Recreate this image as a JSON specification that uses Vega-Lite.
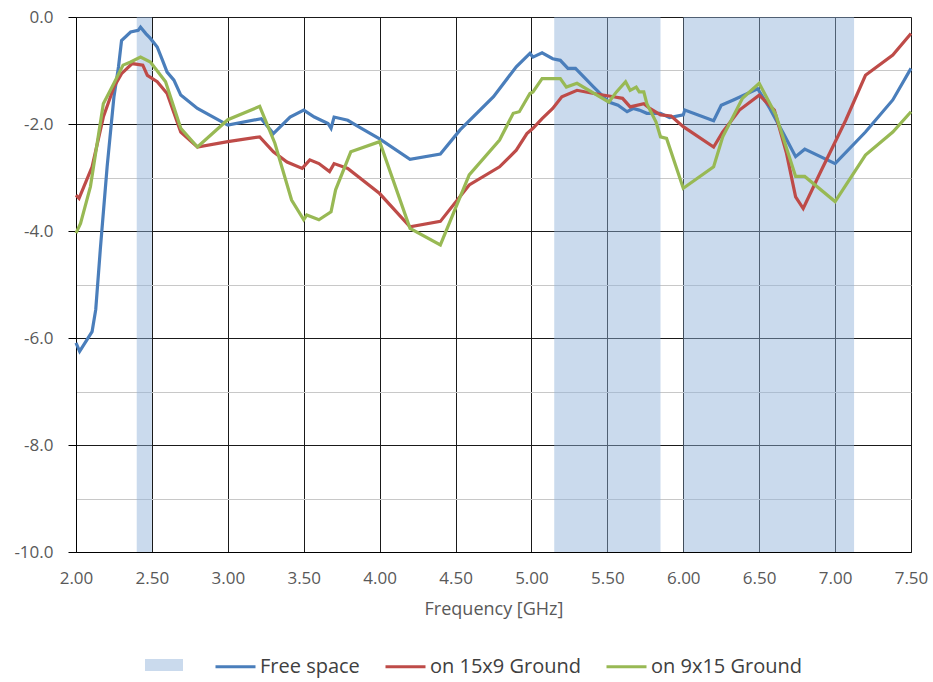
{
  "$schema": "https://vega.github.io/schema/vega-lite/v6.json",
  "width": 835,
  "height": 535,
  "autosize": {"type": "none"},
  "padding": {"left": 76, "top": 17, "right": 22, "bottom": 130},
  "config": {"view": {"stroke": null}, "font": "Open Sans"},
  "datasets": {
    "bands": [
      {"start": 2.4, "end": 2.5, "band": "Band"},
      {"start": 5.15, "end": 5.85, "band": "Band"},
      {"start": 6.0, "end": 7.125, "band": "Band"}
    ],
    "curves": [
      {"f": 2.00, "v": -6.09, "s": "Free space"},
      {"f": 2.024, "v": -6.25, "s": "Free space"},
      {"f": 2.106, "v": -5.88, "s": "Free space"},
      {"f": 2.13, "v": -5.47, "s": "Free space"},
      {"f": 2.16, "v": -4.35, "s": "Free space"},
      {"f": 2.205, "v": -2.80, "s": "Free space"},
      {"f": 2.25, "v": -1.49, "s": "Free space"},
      {"f": 2.28, "v": -0.93, "s": "Free space"},
      {"f": 2.30, "v": -0.44, "s": "Free space"},
      {"f": 2.36, "v": -0.28, "s": "Free space"},
      {"f": 2.41, "v": -0.25, "s": "Free space"},
      {"f": 2.425, "v": -0.19, "s": "Free space"},
      {"f": 2.46, "v": -0.31, "s": "Free space"},
      {"f": 2.49, "v": -0.40, "s": "Free space"},
      {"f": 2.535, "v": -0.56, "s": "Free space"},
      {"f": 2.57, "v": -0.81, "s": "Free space"},
      {"f": 2.60, "v": -1.03, "s": "Free space"},
      {"f": 2.645, "v": -1.18, "s": "Free space"},
      {"f": 2.69, "v": -1.46, "s": "Free space"},
      {"f": 2.80, "v": -1.71, "s": "Free space"},
      {"f": 3.00, "v": -2.02, "s": "Free space"},
      {"f": 3.22, "v": -1.90, "s": "Free space"},
      {"f": 3.30, "v": -2.18, "s": "Free space"},
      {"f": 3.41, "v": -1.87, "s": "Free space"},
      {"f": 3.50, "v": -1.74, "s": "Free space"},
      {"f": 3.57, "v": -1.87, "s": "Free space"},
      {"f": 3.66, "v": -1.99, "s": "Free space"},
      {"f": 3.68, "v": -2.08, "s": "Free space"},
      {"f": 3.70, "v": -1.87, "s": "Free space"},
      {"f": 3.79, "v": -1.93, "s": "Free space"},
      {"f": 3.88, "v": -2.08, "s": "Free space"},
      {"f": 4.00, "v": -2.28, "s": "Free space"},
      {"f": 4.20, "v": -2.66, "s": "Free space"},
      {"f": 4.40, "v": -2.56, "s": "Free space"},
      {"f": 4.53, "v": -2.11, "s": "Free space"},
      {"f": 4.75, "v": -1.49, "s": "Free space"},
      {"f": 4.90, "v": -0.93, "s": "Free space"},
      {"f": 4.99, "v": -0.68, "s": "Free space"},
      {"f": 5.01, "v": -0.75, "s": "Free space"},
      {"f": 5.07, "v": -0.67, "s": "Free space"},
      {"f": 5.14, "v": -0.78, "s": "Free space"},
      {"f": 5.19, "v": -0.81, "s": "Free space"},
      {"f": 5.24, "v": -0.96, "s": "Free space"},
      {"f": 5.29, "v": -0.96, "s": "Free space"},
      {"f": 5.41, "v": -1.31, "s": "Free space"},
      {"f": 5.51, "v": -1.59, "s": "Free space"},
      {"f": 5.57, "v": -1.65, "s": "Free space"},
      {"f": 5.63, "v": -1.77, "s": "Free space"},
      {"f": 5.67, "v": -1.71, "s": "Free space"},
      {"f": 5.71, "v": -1.74, "s": "Free space"},
      {"f": 5.76, "v": -1.80, "s": "Free space"},
      {"f": 5.85, "v": -1.80, "s": "Free space"},
      {"f": 5.91, "v": -1.88, "s": "Free space"},
      {"f": 6.00, "v": -1.83, "s": "Free space"},
      {"f": 6.01, "v": -1.74, "s": "Free space"},
      {"f": 6.20, "v": -1.94, "s": "Free space"},
      {"f": 6.25, "v": -1.65, "s": "Free space"},
      {"f": 6.33, "v": -1.55, "s": "Free space"},
      {"f": 6.49, "v": -1.34, "s": "Free space"},
      {"f": 6.57, "v": -1.71, "s": "Free space"},
      {"f": 6.66, "v": -2.18, "s": "Free space"},
      {"f": 6.74, "v": -2.61, "s": "Free space"},
      {"f": 6.80, "v": -2.47, "s": "Free space"},
      {"f": 7.00, "v": -2.74, "s": "Free space"},
      {"f": 7.20, "v": -2.15, "s": "Free space"},
      {"f": 7.38, "v": -1.55, "s": "Free space"},
      {"f": 7.50, "v": -0.96, "s": "Free space"},

      {"f": 2.00, "v": -3.33, "s": "on 15x9 Ground"},
      {"f": 2.02, "v": -3.39, "s": "on 15x9 Ground"},
      {"f": 2.106, "v": -2.80, "s": "on 15x9 Ground"},
      {"f": 2.18, "v": -1.87, "s": "on 15x9 Ground"},
      {"f": 2.25, "v": -1.31, "s": "on 15x9 Ground"},
      {"f": 2.30, "v": -1.06, "s": "on 15x9 Ground"},
      {"f": 2.37, "v": -0.87, "s": "on 15x9 Ground"},
      {"f": 2.44, "v": -0.90, "s": "on 15x9 Ground"},
      {"f": 2.47, "v": -1.09, "s": "on 15x9 Ground"},
      {"f": 2.535, "v": -1.21, "s": "on 15x9 Ground"},
      {"f": 2.60, "v": -1.43, "s": "on 15x9 Ground"},
      {"f": 2.69, "v": -2.15, "s": "on 15x9 Ground"},
      {"f": 2.80, "v": -2.43, "s": "on 15x9 Ground"},
      {"f": 3.00, "v": -2.33, "s": "on 15x9 Ground"},
      {"f": 3.21, "v": -2.24, "s": "on 15x9 Ground"},
      {"f": 3.30, "v": -2.52, "s": "on 15x9 Ground"},
      {"f": 3.39, "v": -2.71, "s": "on 15x9 Ground"},
      {"f": 3.49, "v": -2.83, "s": "on 15x9 Ground"},
      {"f": 3.54, "v": -2.67, "s": "on 15x9 Ground"},
      {"f": 3.60, "v": -2.74, "s": "on 15x9 Ground"},
      {"f": 3.67, "v": -2.89, "s": "on 15x9 Ground"},
      {"f": 3.70, "v": -2.74, "s": "on 15x9 Ground"},
      {"f": 3.79, "v": -2.83, "s": "on 15x9 Ground"},
      {"f": 4.00, "v": -3.30, "s": "on 15x9 Ground"},
      {"f": 4.20, "v": -3.92, "s": "on 15x9 Ground"},
      {"f": 4.40, "v": -3.82, "s": "on 15x9 Ground"},
      {"f": 4.59, "v": -3.14, "s": "on 15x9 Ground"},
      {"f": 4.79, "v": -2.80, "s": "on 15x9 Ground"},
      {"f": 4.90, "v": -2.49, "s": "on 15x9 Ground"},
      {"f": 4.97, "v": -2.18, "s": "on 15x9 Ground"},
      {"f": 5.01, "v": -2.08, "s": "on 15x9 Ground"},
      {"f": 5.07, "v": -1.90, "s": "on 15x9 Ground"},
      {"f": 5.14, "v": -1.71, "s": "on 15x9 Ground"},
      {"f": 5.20, "v": -1.49, "s": "on 15x9 Ground"},
      {"f": 5.30, "v": -1.37, "s": "on 15x9 Ground"},
      {"f": 5.41, "v": -1.43, "s": "on 15x9 Ground"},
      {"f": 5.54, "v": -1.49, "s": "on 15x9 Ground"},
      {"f": 5.60, "v": -1.52, "s": "on 15x9 Ground"},
      {"f": 5.65, "v": -1.68, "s": "on 15x9 Ground"},
      {"f": 5.74, "v": -1.62, "s": "on 15x9 Ground"},
      {"f": 5.78, "v": -1.71, "s": "on 15x9 Ground"},
      {"f": 5.85, "v": -1.83, "s": "on 15x9 Ground"},
      {"f": 5.92, "v": -1.85, "s": "on 15x9 Ground"},
      {"f": 6.00, "v": -2.05, "s": "on 15x9 Ground"},
      {"f": 6.20, "v": -2.43, "s": "on 15x9 Ground"},
      {"f": 6.26, "v": -2.15, "s": "on 15x9 Ground"},
      {"f": 6.37, "v": -1.74, "s": "on 15x9 Ground"},
      {"f": 6.50, "v": -1.46, "s": "on 15x9 Ground"},
      {"f": 6.60, "v": -1.74, "s": "on 15x9 Ground"},
      {"f": 6.68, "v": -2.55, "s": "on 15x9 Ground"},
      {"f": 6.74, "v": -3.36, "s": "on 15x9 Ground"},
      {"f": 6.79, "v": -3.58, "s": "on 15x9 Ground"},
      {"f": 6.90, "v": -2.92, "s": "on 15x9 Ground"},
      {"f": 7.07, "v": -1.93, "s": "on 15x9 Ground"},
      {"f": 7.20, "v": -1.09, "s": "on 15x9 Ground"},
      {"f": 7.38, "v": -0.71, "s": "on 15x9 Ground"},
      {"f": 7.50, "v": -0.31, "s": "on 15x9 Ground"},

      {"f": 2.00, "v": -4.04, "s": "on 9x15 Ground"},
      {"f": 2.03, "v": -3.86, "s": "on 9x15 Ground"},
      {"f": 2.095, "v": -3.17, "s": "on 9x15 Ground"},
      {"f": 2.18, "v": -1.62, "s": "on 9x15 Ground"},
      {"f": 2.25, "v": -1.24, "s": "on 9x15 Ground"},
      {"f": 2.31, "v": -0.90, "s": "on 9x15 Ground"},
      {"f": 2.36, "v": -0.84, "s": "on 9x15 Ground"},
      {"f": 2.425, "v": -0.75, "s": "on 9x15 Ground"},
      {"f": 2.49, "v": -0.84, "s": "on 9x15 Ground"},
      {"f": 2.59, "v": -1.21, "s": "on 9x15 Ground"},
      {"f": 2.69, "v": -2.08, "s": "on 9x15 Ground"},
      {"f": 2.80, "v": -2.43, "s": "on 9x15 Ground"},
      {"f": 3.00, "v": -1.92, "s": "on 9x15 Ground"},
      {"f": 3.21, "v": -1.67, "s": "on 9x15 Ground"},
      {"f": 3.31, "v": -2.36, "s": "on 9x15 Ground"},
      {"f": 3.42, "v": -3.42, "s": "on 9x15 Ground"},
      {"f": 3.50, "v": -3.79, "s": "on 9x15 Ground"},
      {"f": 3.52, "v": -3.70, "s": "on 9x15 Ground"},
      {"f": 3.60, "v": -3.79, "s": "on 9x15 Ground"},
      {"f": 3.68, "v": -3.64, "s": "on 9x15 Ground"},
      {"f": 3.71, "v": -3.23, "s": "on 9x15 Ground"},
      {"f": 3.81, "v": -2.52, "s": "on 9x15 Ground"},
      {"f": 4.00, "v": -2.33, "s": "on 9x15 Ground"},
      {"f": 4.20, "v": -3.95, "s": "on 9x15 Ground"},
      {"f": 4.40, "v": -4.26, "s": "on 9x15 Ground"},
      {"f": 4.59, "v": -2.95, "s": "on 9x15 Ground"},
      {"f": 4.79, "v": -2.30, "s": "on 9x15 Ground"},
      {"f": 4.88, "v": -1.80, "s": "on 9x15 Ground"},
      {"f": 4.92, "v": -1.77, "s": "on 9x15 Ground"},
      {"f": 4.99, "v": -1.43, "s": "on 9x15 Ground"},
      {"f": 5.01, "v": -1.40, "s": "on 9x15 Ground"},
      {"f": 5.07, "v": -1.15, "s": "on 9x15 Ground"},
      {"f": 5.19, "v": -1.15, "s": "on 9x15 Ground"},
      {"f": 5.23, "v": -1.31, "s": "on 9x15 Ground"},
      {"f": 5.30, "v": -1.24, "s": "on 9x15 Ground"},
      {"f": 5.51, "v": -1.59, "s": "on 9x15 Ground"},
      {"f": 5.56, "v": -1.40, "s": "on 9x15 Ground"},
      {"f": 5.62, "v": -1.21, "s": "on 9x15 Ground"},
      {"f": 5.65, "v": -1.37, "s": "on 9x15 Ground"},
      {"f": 5.69, "v": -1.31, "s": "on 9x15 Ground"},
      {"f": 5.71, "v": -1.40, "s": "on 9x15 Ground"},
      {"f": 5.74, "v": -1.40, "s": "on 9x15 Ground"},
      {"f": 5.76, "v": -1.62, "s": "on 9x15 Ground"},
      {"f": 5.82, "v": -1.96, "s": "on 9x15 Ground"},
      {"f": 5.85, "v": -2.24, "s": "on 9x15 Ground"},
      {"f": 5.89, "v": -2.27, "s": "on 9x15 Ground"},
      {"f": 6.00, "v": -3.20, "s": "on 9x15 Ground"},
      {"f": 6.20, "v": -2.80, "s": "on 9x15 Ground"},
      {"f": 6.26, "v": -2.24, "s": "on 9x15 Ground"},
      {"f": 6.39, "v": -1.52, "s": "on 9x15 Ground"},
      {"f": 6.50, "v": -1.24, "s": "on 9x15 Ground"},
      {"f": 6.61, "v": -1.83, "s": "on 9x15 Ground"},
      {"f": 6.74, "v": -2.98, "s": "on 9x15 Ground"},
      {"f": 6.80, "v": -2.98, "s": "on 9x15 Ground"},
      {"f": 7.00, "v": -3.45, "s": "on 9x15 Ground"},
      {"f": 7.20, "v": -2.58, "s": "on 9x15 Ground"},
      {"f": 7.38, "v": -2.15, "s": "on 9x15 Ground"},
      {"f": 7.50, "v": -1.77, "s": "on 9x15 Ground"}
    ]
  },
  "layer": [
    {
      "data": {"name": "bands"},
      "mark": {"type": "rect", "opacity": 0.47},
      "encoding": {
        "x": {"field": "start", "type": "quantitative", "title": "Frequency [GHz]", "scale": {"domain": [2, 7.5], "nice": false, "zero": false}},
        "x2": {"field": "end"},
        "fill": {
          "field": "band", "type": "nominal",
          "scale": {"domain": ["Band"], "range": ["#8fb0d8"]},
          "legend": {
            "orient": "none", "legendX": 69, "legendY": 629, "title": null,
            "labelExpr": "''", "symbolType": "M-1,-0.32H1V0.32H-1Z", "symbolSize": 1444,
            "symbolOpacity": 0.47, "symbolStrokeWidth": 0, "padding": 0
          }
        }
      }
    },
    {
      "data": {"name": "curves"},
      "mark": {"type": "line", "strokeWidth": 3.2},
      "encoding": {
        "x": {
          "field": "f", "type": "quantitative", "title": "Frequency [GHz]",
          "scale": {"domain": [2, 7.5], "nice": false, "zero": false},
          "axis": {
            "values": [2, 2.25, 2.5, 2.75, 3, 3.25, 3.5, 3.75, 4, 4.25, 4.5, 4.75, 5, 5.25, 5.5, 5.75, 6, 6.25, 6.5, 6.75, 7, 7.25, 7.5],
            "labelExpr": "abs(datum.value*2-round(datum.value*2))<0.001 ? format(datum.value,'.2f') : ''",
            "ticks": false, "labelPadding": 18, "labelFontSize": 17, "labelColor": "#595959",
            "labelFlush": false, "labelOverlap": false,
            "titleFontSize": 18, "titleFontWeight": "normal", "titleColor": "#595959", "titlePadding": 14,
            "domainColor": "black", "domainWidth": 1,
            "gridColor": {"condition": {"test": "abs(datum.value*2-round(datum.value*2))<0.001", "value": "#1a1a1a"}, "value": "#c8c8c8"},
            "gridWidth": 1, "gridOpacity": 1
          }
        },
        "y": {
          "field": "v", "type": "quantitative", "title": null,
          "scale": {"domain": [-10, 0], "nice": false, "zero": false},
          "axis": {
            "values": [-10, -9, -8, -7, -6, -5, -4, -3, -2, -1, 0],
            "labelExpr": "datum.value % 2 === 0 ? (datum.value === 0 ? '0.0' : datum.value + '.0') : ''",
            "tickColor": {"condition": {"test": "datum.value % 2 === 0", "value": "black"}, "value": "transparent"},
            "tickSize": 8, "labelPadding": 15, "labelFontSize": 17, "labelColor": "#595959",
            "labelOverlap": false, "labelFlush": false,
            "domainColor": "black", "domainWidth": 1,
            "gridColor": {"condition": {"test": "datum.value % 2 === 0", "value": "#1a1a1a"}, "value": "#c8c8c8"},
            "gridWidth": 1, "gridOpacity": 1
          }
        },
        "stroke": {
          "field": "s", "type": "nominal",
          "scale": {"domain": ["Free space", "on 15x9 Ground", "on 9x15 Ground"], "range": ["#4A7EBB", "#BE4B48", "#98B954"]},
          "legend": {
            "orient": "none", "legendX": 138, "legendY": 628, "direction": "horizontal", "title": null,
            "symbolType": "stroke", "symbolSize": 1600, "symbolStrokeWidth": 3,
            "labelFontSize": 20, "labelColor": "#404040", "labelOffset": 3, "columnPadding": 19, "padding": 0
          }
        }
      }
    }
  ]
}
